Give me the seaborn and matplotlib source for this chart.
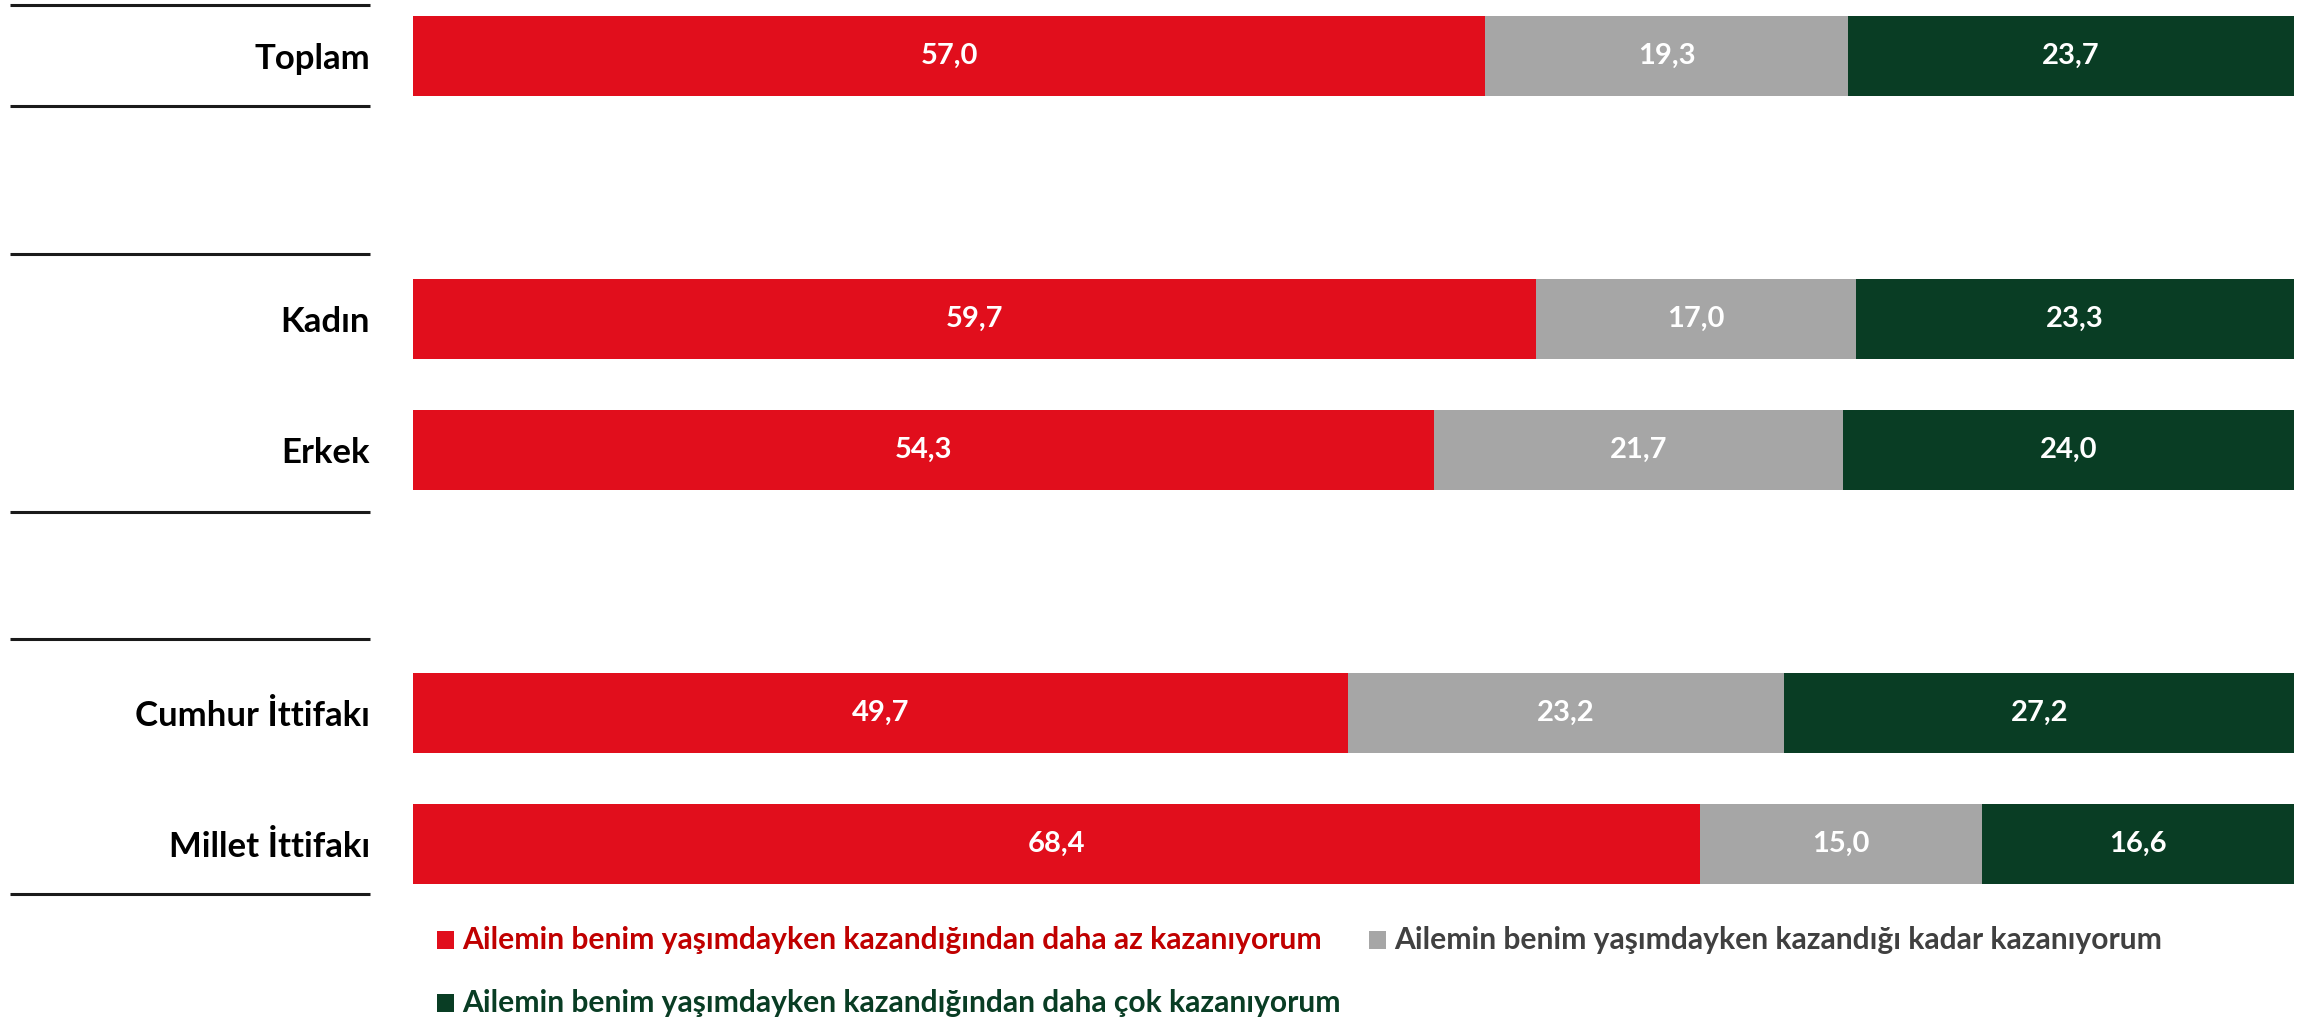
import numpy as np
import pandas as pd
import matplotlib
matplotlib.use('Agg')
import matplotlib.pyplot as plt
import seaborn as sns
from matplotlib.patches import Rectangle
from matplotlib import transforms

# data (percent)
groups = ['Toplam', 'Kadın', 'Erkek', 'Cumhur İttifakı', 'Millet İttifakı']
positions = [0, 2, 3, 5, 6]   # empty slots between the three blocks
less = [57.0, 59.7, 54.3, 49.7, 68.4]
same = [19.3, 17.0, 21.7, 23.2, 15.0]
more = [23.7, 23.3, 24.0, 27.2, 16.6]
series_names = ['Ailemin benim yaşımdayken kazandığından daha az kazanıyorum',
                'Ailemin benim yaşımdayken kazandığı kadar kazanıyorum',
                'Ailemin benim yaşımdayken kazandığından daha çok kazanıyorum']

bar_colors = ['#E10E1C', '#A6A6A6', '#093D24']
text_colors = ['#C00000', '#404040', '#093D24']
separators = [-0.39, 0.38, 1.51, 3.47, 4.44, 6.38]

df = pd.DataFrame({'grup': groups, 'pos': positions,
                   'less': less, 'same': same, 'more': more})
df['c1'] = df['less']
df['c2'] = df['c1'] + df['same']
df['c3'] = df['c2'] + df['more']

sns.set_theme(style='white')
plt.rcParams['font.family'] = ['Lato', 'DejaVu Sans']

W, H = 2313, 1023
fig = plt.figure(figsize=(W / 100, H / 100), dpi=100)
ax = fig.add_axes([413 / W, 0, (2294 - 413) / W, 1])

# stacked look: draw cumulative bars from the longest to the shortest
for col, color in zip(['c3', 'c2', 'c1'], bar_colors[::-1]):
    sns.barplot(data=df, x=col, y='pos', orient='y', native_scale=True,
                color=color, width=0.61, errorbar=None, linewidth=0,
                saturation=1, ax=ax)

# value labels in the middle of each segment
for i, row in df.iterrows():
    start = 0
    for v in [row['less'], row['same'], row['more']]:
        ax.text(start + v / 2, row['pos'], f'{v:.1f}'.replace('.', ','),
                ha='center', va='center', color='white',
                fontsize=21, fontweight='bold')
        start += v

ax.set_xlim(0, 100)
ax.set_ylim(7.363, -0.426)
ax.set_xticks([])
ax.set_yticks(positions, groups)
ax.tick_params(axis='y', length=0, pad=31, labelsize=25)
for lbl in ax.get_yticklabels():
    lbl.set_fontweight('bold')
    lbl.set_color('black')
ax.set_xlabel('')
ax.set_ylabel('')
sns.despine(ax=ax, left=True, bottom=True)

# black separator lines left of the bars
trans = transforms.blended_transform_factory(fig.transFigure, ax.transData)
for s in separators:
    ax.plot([10 / W, 370 / W], [s, s], transform=trans, color='#1a1a1a',
            lw=2.2, clip_on=False, solid_capstyle='butt')

# legend by hand
leg_pos = [(437, 940), (1369, 940), (437, 1003)]
for (x, y), name, bc, tc in zip(leg_pos, series_names, bar_colors, text_colors):
    fig.add_artist(Rectangle((x / W, 1 - (y + 9) / H), 17 / W, 18 / H,
                             transform=fig.transFigure, facecolor=bc,
                             edgecolor='none'))
    fig.text((x + 25) / W, 1 - y / H, name, color=tc, fontsize=21.6,
             fontweight='bold', ha='left', va='center')

fig.savefig('out.png', dpi=100)
